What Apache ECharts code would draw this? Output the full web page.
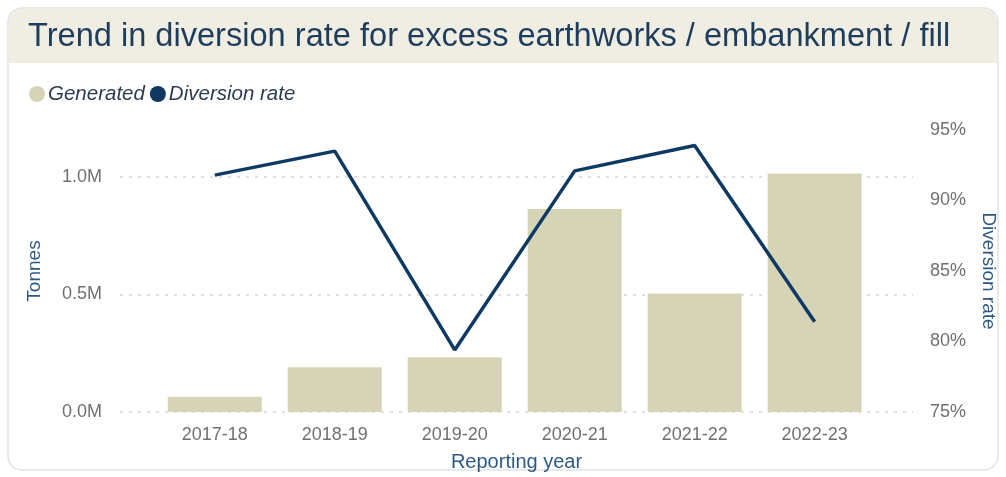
<!DOCTYPE html>
<html>
<head>
<meta charset="utf-8">
<script src="https://cdn.jsdelivr.net/npm/echarts@6/dist/echarts.min.js"></script>
<style>
html,body{margin:0;padding:0;background:#fff;}
#chart{width:1006px;height:477px;}
</style>
</head>
<body>
<div id="chart"></div>
<script>
const categories = ['2017-18','2018-19','2019-20','2020-21','2021-22','2022-23'];
const generated = [65000, 190000, 233000, 864000, 504000, 1015000];
const diversionRate = [0.918, 0.935, 0.794, 0.921, 0.939, 0.814];
const leftTicks = [0, 500000, 1000000];
const rightTicks = [0.75, 0.80, 0.85, 0.90, 0.95];

const chart = echarts.init(document.getElementById('chart'));
const font = 'Arial, "Liberation Sans", sans-serif';
chart.setOption({
  animation: false,
  textStyle: { fontFamily: font },
  graphic: [
    { type: 'rect', z: -10, shape: { x: 8, y: 8, width: 990, height: 462, r: 14 },
      style: { fill: '#ffffff', stroke: '#e3e3e3', lineWidth: 1.5 } },
    { type: 'rect', z: -9, shape: { x: 9, y: 9, width: 988, height: 54, r: [13, 13, 0, 0] },
      style: { fill: '#f0eee3' } }
  ],
  title: {
    text: 'Trend in diversion rate for excess earthworks / embankment / fill',
    left: 23, top: 16,
    textStyle: { fontSize: 32.6, fontWeight: 'normal', color: '#1e3d5c', fontFamily: font }
  },
  legend: {
    left: 24, top: 79, itemWidth: 16, itemHeight: 16, itemGap: 5, icon: 'circle',
    textStyle: { fontSize: 20.5, fontStyle: 'italic', color: '#2a3c52', fontFamily: font, padding: [0, 0, 0, -2] },
    data: ['Generated', 'Diversion rate']
  },
  grid: { left: 120, right: 91, top: 130, bottom: 64 },
  xAxis: {
    type: 'value', min: -0.79, max: 5.82,
    axisLine: { show: false }, axisTick: { show: false }, splitLine: { show: false },
    axisLabel: { customValues: [0,1,2,3,4,5], formatter: v => categories[Math.round(v)] || '',
      color: '#707070', fontSize: 18, margin: 14 },
    name: 'Reporting year', nameLocation: 'middle', nameGap: 40,
    nameTextStyle: { color: '#2d5a84', fontSize: 20 }
  },
  yAxis: [
    {
      type: 'value', min: 0, max: 1200000, interval: 500000,
      axisLine: { show: false }, axisTick: { show: false },
      axisLabel: { customValues: leftTicks, formatter: v => (v / 1e6).toFixed(1) + 'M',
        color: '#707070', fontSize: 18, margin: 18 },
      splitLine: { show: true, showMaxLine: false, lineStyle: { type: [3, 6], color: '#d6d6d6', width: 1.5 } },
      name: 'Tonnes', nameLocation: 'middle', nameGap: 76, nameRotate: 90,
      nameTextStyle: { color: '#2d5a84', fontSize: 19 }
    },
    {
      type: 'value', min: 0.75, max: 0.95, interval: 0.05,
      axisLine: { show: false }, axisTick: { show: false }, splitLine: { show: false },
      axisLabel: { customValues: rightTicks, formatter: v => Math.round(v * 100) + '%',
        color: '#707070', fontSize: 18, margin: 17 },
      name: 'Diversion rate', nameLocation: 'middle', nameGap: 66, nameRotate: -90,
      nameTextStyle: { color: '#2d5a84', fontSize: 19 }
    }
  ],
  series: [
    {
      name: 'Generated', type: 'bar', yAxisIndex: 0, barWidth: 94,
      itemStyle: { color: '#d6d4b6' },
      data: generated.map((v, i) => [i, v])
    },
    {
      name: 'Diversion rate', type: 'line', yAxisIndex: 1, symbol: 'none',
      itemStyle: { color: '#0d3963' },
      lineStyle: { color: '#0d3963', width: 3.5 },
      data: diversionRate.map((v, i) => [i, v])
    }
  ]
});
</script>
</body>
</html>
